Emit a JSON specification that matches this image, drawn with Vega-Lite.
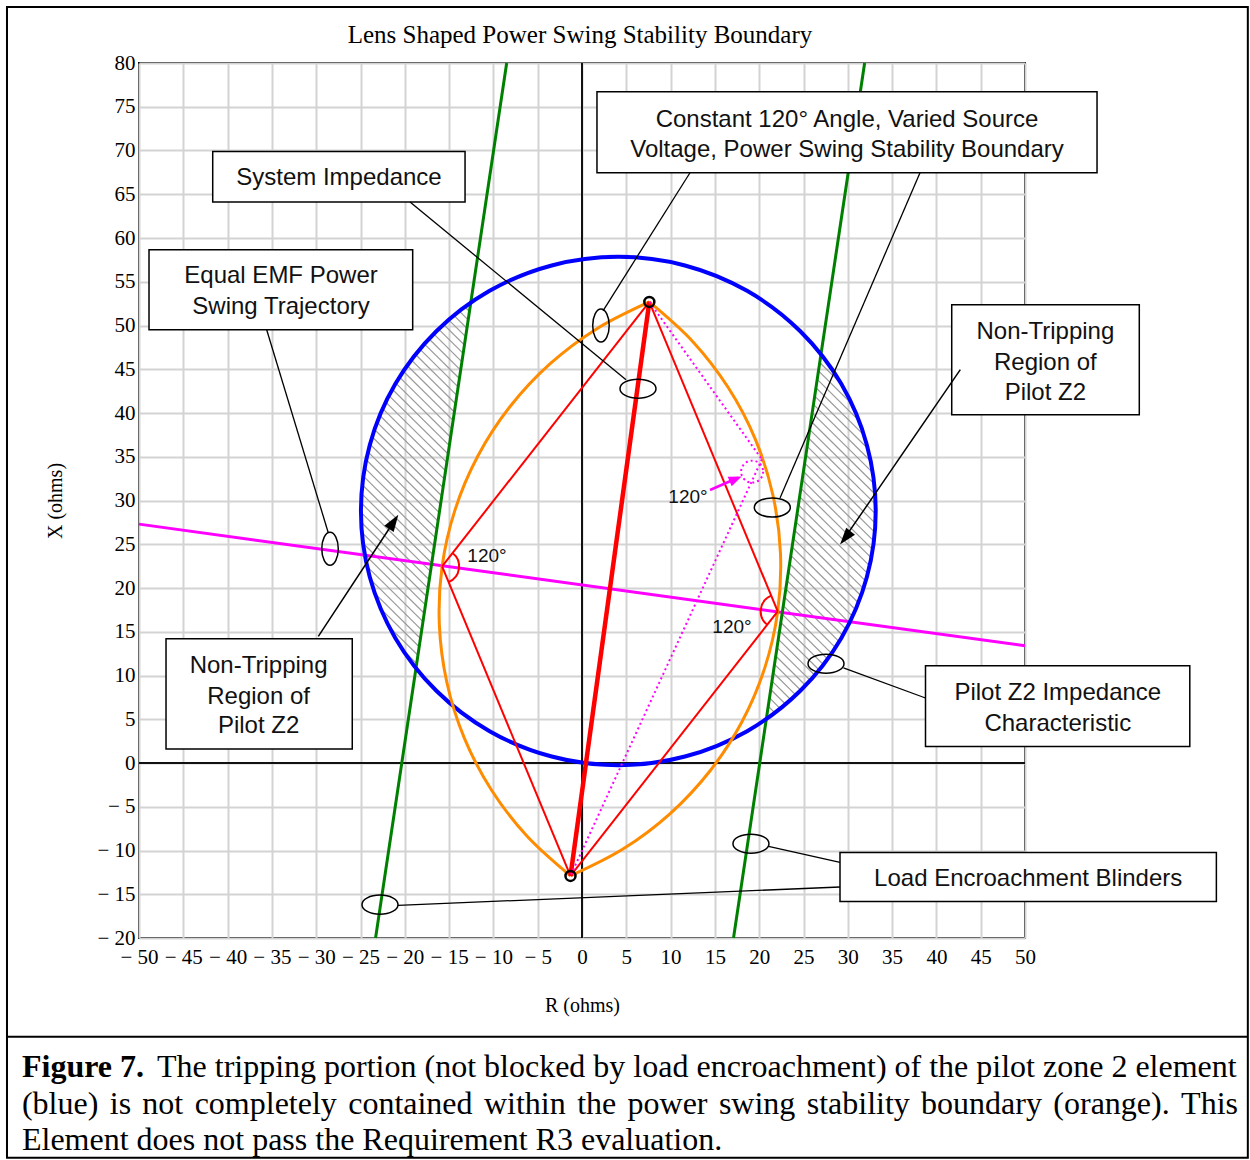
{
"$schema": "https://vega.github.io/schema/vega-lite/v6.json",
"width": 886, "height": 875,
"autosize": {"type": "none"},
"padding": {"left": 139, "top": 63, "right": 225, "bottom": 222},
"background": "#ffffff",
"config": {"view": {"stroke": "#000000", "strokeWidth": 2}},
"datasets": {
"hatch": [
{"x":-20.24,"y":12.94,"x2":-18.66,"y2":11.36},{"x":-21.76,"y":15.56,"x2":-18.52,"y2":12.32},{"x":-22.71,"y":17.61,"x2":-18.38,"y2":13.28},{"x":-23.38,"y":19.38,"x2":-18.23,"y2":14.23},{"x":-23.88,"y":20.98,"x2":-18.09,"y2":15.19},{"x":-24.25,"y":22.45,"x2":-17.95,"y2":16.15},{"x":-24.52,"y":23.82,"x2":-17.81,"y2":17.11},{"x":-24.72,"y":25.12,"x2":-17.67,"y2":18.07},{"x":-24.85,"y":26.35,"x2":-17.53,"y2":19.03},{"x":-24.92,"y":27.52,"x2":-17.38,"y2":19.98},{"x":-24.95,"y":28.65,"x2":-17.24,"y2":20.94},{"x":-24.94,"y":29.74,"x2":-17.10,"y2":21.90},{"x":-24.88,"y":30.78,"x2":-16.96,"y2":22.86},{"x":-24.80,"y":31.80,"x2":-16.82,"y2":23.82},{"x":-24.68,"y":32.78,"x2":-16.67,"y2":24.77},{"x":-24.53,"y":33.73,"x2":-16.53,"y2":25.73},{"x":-24.36,"y":34.66,"x2":-16.39,"y2":26.69},{"x":-24.16,"y":35.56,"x2":-16.25,"y2":27.65},{"x":-23.93,"y":36.43,"x2":-16.11,"y2":28.61},{"x":-23.69,"y":37.29,"x2":-15.97,"y2":29.57},{"x":-23.42,"y":38.12,"x2":-15.82,"y2":30.52},{"x":-23.13,"y":38.93,"x2":-15.68,"y2":31.48},{"x":-22.82,"y":39.72,"x2":-15.54,"y2":32.44},{"x":-22.50,"y":40.50,"x2":-15.40,"y2":33.40},{"x":-22.15,"y":41.25,"x2":-15.26,"y2":34.36},{"x":-21.79,"y":41.99,"x2":-15.11,"y2":35.31},{"x":-21.41,"y":42.71,"x2":-14.97,"y2":36.27},{"x":-21.01,"y":43.41,"x2":-14.83,"y2":37.23},{"x":-20.60,"y":44.10,"x2":-14.69,"y2":38.19},{"x":-20.17,"y":44.77,"x2":-14.55,"y2":39.15},{"x":-19.73,"y":45.43,"x2":-14.41,"y2":40.11},{"x":-19.27,"y":46.07,"x2":-14.26,"y2":41.06},{"x":-18.79,"y":46.69,"x2":-14.12,"y2":42.02},{"x":-18.30,"y":47.30,"x2":-13.98,"y2":42.98},{"x":-17.80,"y":47.90,"x2":-13.84,"y2":43.94},{"x":-17.28,"y":48.48,"x2":-13.70,"y2":44.90},{"x":-16.74,"y":49.04,"x2":-13.55,"y2":45.85},{"x":-16.19,"y":49.59,"x2":-13.41,"y2":46.81},{"x":-15.63,"y":50.13,"x2":-13.27,"y2":47.77},{"x":-15.05,"y":50.65,"x2":-13.13,"y2":48.73},{"x":-14.46,"y":51.16,"x2":-12.99,"y2":49.69},{"x":-13.85,"y":51.65,"x2":-12.85,"y2":50.65},{"x":-13.22,"y":52.12,"x2":-12.70,"y2":51.60},
{"x":20.88,"y":5.52,"x2":21.14,"y2":5.26},{"x":21.02,"y":6.48,"x2":21.77,"y2":5.73},{"x":21.16,"y":7.44,"x2":22.38,"y2":6.22},{"x":21.30,"y":8.40,"x2":22.98,"y2":6.72},{"x":21.45,"y":9.35,"x2":23.57,"y2":7.23},{"x":21.59,"y":10.31,"x2":24.14,"y2":7.76},{"x":21.73,"y":11.27,"x2":24.69,"y2":8.31},{"x":21.87,"y":12.23,"x2":25.24,"y2":8.86},{"x":22.01,"y":13.19,"x2":25.76,"y2":9.44},{"x":22.15,"y":14.15,"x2":26.27,"y2":10.03},{"x":22.30,"y":15.10,"x2":26.77,"y2":10.63},{"x":22.44,"y":16.06,"x2":27.25,"y2":11.25},{"x":22.58,"y":17.02,"x2":27.72,"y2":11.88},{"x":22.72,"y":17.98,"x2":28.17,"y2":12.53},{"x":22.86,"y":18.94,"x2":28.61,"y2":13.19},{"x":23.01,"y":19.89,"x2":29.03,"y2":13.87},{"x":23.15,"y":20.85,"x2":29.43,"y2":14.57},{"x":23.29,"y":21.81,"x2":29.82,"y2":15.28},{"x":23.43,"y":22.77,"x2":30.19,"y2":16.01},{"x":23.57,"y":23.73,"x2":30.54,"y2":16.76},{"x":23.71,"y":24.69,"x2":30.88,"y2":17.52},{"x":23.86,"y":25.64,"x2":31.19,"y2":18.31},{"x":24.00,"y":26.60,"x2":31.49,"y2":19.11},{"x":24.14,"y":27.56,"x2":31.77,"y2":19.93},{"x":24.28,"y":28.52,"x2":32.02,"y2":20.78},{"x":24.42,"y":29.48,"x2":32.26,"y2":21.64},{"x":24.57,"y":30.43,"x2":32.47,"y2":22.53},{"x":24.71,"y":31.39,"x2":32.66,"y2":23.44},{"x":24.85,"y":32.35,"x2":32.82,"y2":24.38},{"x":24.99,"y":33.31,"x2":32.95,"y2":25.35},{"x":25.13,"y":34.27,"x2":33.05,"y2":26.35},{"x":25.27,"y":35.23,"x2":33.12,"y2":27.38},{"x":25.42,"y":36.18,"x2":33.15,"y2":28.45},{"x":25.56,"y":37.14,"x2":33.14,"y2":29.56},{"x":25.70,"y":38.10,"x2":33.09,"y2":30.71},{"x":25.84,"y":39.06,"x2":32.98,"y2":31.92},{"x":25.98,"y":40.02,"x2":32.82,"y2":33.18},{"x":26.12,"y":40.98,"x2":32.58,"y2":34.52},{"x":26.27,"y":41.93,"x2":32.26,"y2":35.94},{"x":26.41,"y":42.89,"x2":31.83,"y2":37.47},{"x":26.55,"y":43.85,"x2":31.24,"y2":39.16},{"x":26.69,"y":44.81,"x2":30.44,"y2":41.06},{"x":26.83,"y":45.77,"x2":29.24,"y2":43.36}
],
"zero": [{"x":0,"y":-20,"x2":0,"y2":80},{"x":-50,"y":0,"x2":50,"y2":0}],
"magenta": [{"x":-50,"y":27.3,"x2":50,"y2":13.4}],
"green": [{"x":-23.3,"y":-20,"x2":-8.5,"y2":80},{"x":17.1,"y":-20,"x2":31.9,"y2":80}],
"blue": [
{"o":0,"x":33.15,"y":28.8},{"o":1,"x":32.16,"y":36.32},{"o":2,"x":29.26,"y":43.33},{"o":3,"x":24.64,"y":49.34},{"o":4,"x":18.63,"y":53.96},{"o":5,"x":11.62,"y":56.86},{"o":6,"x":4.1,"y":57.85},{"o":7,"x":-3.42,"y":56.86},{"o":8,"x":-10.43,"y":53.96},{"o":9,"x":-16.44,"y":49.34},{"o":10,"x":-21.06,"y":43.33},{"o":11,"x":-23.96,"y":36.32},{"o":12,"x":-24.95,"y":28.8},{"o":13,"x":-23.96,"y":21.28},{"o":14,"x":-21.06,"y":14.27},{"o":15,"x":-16.44,"y":8.26},{"o":16,"x":-10.43,"y":3.64},{"o":17,"x":-3.42,"y":0.74},{"o":18,"x":4.1,"y":-0.25},{"o":19,"x":11.62,"y":0.74},{"o":20,"x":18.63,"y":3.64},{"o":21,"x":24.64,"y":8.26},{"o":22,"x":29.26,"y":14.27},{"o":23,"x":32.16,"y":21.28}
],
"lens": [
{"g":"L","o":0,"x":7.6,"y":52.7},{"g":"L","o":1,"x":1.68,"y":49.64},{"g":"L","o":2,"x":-3.62,"y":45.61},{"g":"L","o":3,"x":-8.14,"y":40.71},{"g":"L","o":4,"x":-11.74,"y":35.11},{"g":"L","o":5,"x":-14.32,"y":28.96},{"g":"L","o":6,"x":-15.79,"y":22.47},{"g":"L","o":7,"x":-16.10,"y":15.81},{"g":"L","o":8,"x":-15.25,"y":9.20},{"g":"L","o":9,"x":-13.28,"y":2.84},{"g":"L","o":10,"x":-10.22,"y":-3.08},{"g":"L","o":11,"x":-6.19,"y":-8.38},{"g":"L","o":12,"x":-1.3,"y":-12.9},
{"g":"R","o":0,"x":-1.3,"y":-12.9},{"g":"R","o":1,"x":4.62,"y":-9.84},{"g":"R","o":2,"x":9.92,"y":-5.81},{"g":"R","o":3,"x":14.44,"y":-0.91},{"g":"R","o":4,"x":18.04,"y":4.69},{"g":"R","o":5,"x":20.62,"y":10.84},{"g":"R","o":6,"x":22.09,"y":17.33},{"g":"R","o":7,"x":22.40,"y":23.99},{"g":"R","o":8,"x":21.55,"y":30.60},{"g":"R","o":9,"x":19.58,"y":36.96},{"g":"R","o":10,"x":16.52,"y":42.88},{"g":"R","o":11,"x":12.49,"y":48.18},{"g":"R","o":12,"x":7.6,"y":52.7}
],
"redThin": [{"x":7.6,"y":52.7,"x2":-15.79,"y2":22.47},{"x":-15.79,"y":22.47,"x2":-1.3,"y2":-12.9},{"x":7.6,"y":52.7,"x2":22.09,"y2":17.33},{"x":22.09,"y":17.33,"x2":-1.3,"y2":-12.9}],
"redThick": [{"x":-1.3,"y":-12.9,"x2":7.6,"y2":52.7}],
"magDot": [{"x":7.6,"y":52.7,"x2":20.3,"y2":34.7},{"x":20.3,"y":34.7,"x2":-1.3,"y2":-12.9}],
"magCircle": [{"x":19.2,"y":33.3}],
"magArrow": [{"x":14.45,"y":31.2,"x2":17.6,"y2":32.6}],
"magHead": [{"x":18.02,"y":32.75}],
"arcL": [{"x":-15.79,"y":22.47}],
"arcR": [{"x":22.09,"y":17.33}],
"ends": [{"x":7.6,"y":52.7},{"x":-1.3,"y":-12.9}],
"boxes": [
{"x":-41.68,"y":69.9,"x2":-13.2,"y2":64.11},
{"x":-48.87,"y":58.66,"x2":-19.11,"y2":49.52},
{"x":1.69,"y":76.71,"x2":58.13,"y2":67.46},
{"x":41.73,"y":52.38,"x2":62.9,"y2":39.81},
{"x":-46.95,"y":14.21,"x2":-25.93,"y2":1.6},
{"x":38.77,"y":11.12,"x2":68.6,"y2":1.9},
{"x":29.12,"y":-10.23,"x2":71.6,"y2":-15.82}
],
"callouts": [
{"x":-19.41,"y":64.11,"x2":4.97,"y2":43.81},
{"x":-35.59,"y":49.52,"x2":-28.63,"y2":26.29},
{"x":12.19,"y":67.46,"x2":2.37,"y2":51.68},
{"x":38.15,"y":67.46,"x2":22.35,"y2":30.29},
{"x":38.77,"y":7.43,"x2":29.51,"y2":10.86},
{"x":29.12,"y":-11.36,"x2":21.05,"y2":-9.53},
{"x":29.12,"y":-14.17,"x2":-20.77,"y2":-16.27}
],
"arrowLines": [{"x":42.7,"y":44.95,"x2":29.5,"y2":25.5},{"x":-29.76,"y":14.47,"x2":-21.1,"y2":27.8}],
"headR": [{"x":29.12,"y":24.97}],
"headL": [{"x":-20.73,"y":28.38}],
"hOval": [{"x":6.32,"y":42.78},{"x":21.48,"y":29.2},{"x":27.54,"y":11.35},{"x":19.07,"y":-9.22},{"x":-22.8,"y":-16.19}],
"vOval": [{"x":2.14,"y":50.0},{"x":-28.44,"y":24.49}],
"boxText": [
{"x":-27.43,"y":66.89,"t":"System Impedance"},
{"x":-33.97,"y":55.61,"t":"Equal EMF Power"},
{"x":-33.97,"y":52.06,"t":"Swing Trajectory"},
{"x":29.91,"y":73.52,"t":"Constant 120° Angle, Varied Source"},
{"x":29.91,"y":70.09,"t":"Voltage, Power Swing Stability Boundary"},
{"x":52.3,"y":49.26,"t":"Non-Tripping"},
{"x":52.3,"y":45.72,"t":"Region of"},
{"x":52.3,"y":42.29,"t":"Pilot Z2"},
{"x":-36.5,"y":11.12,"t":"Non-Tripping"},
{"x":-36.5,"y":7.58,"t":"Region of"},
{"x":-36.5,"y":4.26,"t":"Pilot Z2"},
{"x":53.7,"y":8.03,"t":"Pilot Z2 Impedance"},
{"x":53.7,"y":4.49,"t":"Characteristic"},
{"x":50.36,"y":-13.22,"t":"Load Encroachment Blinders"}
],
"angleText": [{"x":-10.72,"y":23.7,"t":"120°"},{"x":16.93,"y":15.6,"t":"120°"},{"x":11.96,"y":30.37,"t":"120°"}],
"titleText": [{"x":-0.23,"y":83.2,"t":"Lens Shaped Power Swing Stability Boundary"}],
"frame": [{"x":-64.9,"y":86.4,"x2":75.15,"y2":-45.1}],
"sep": [{"x":-64.9,"y":-31.28,"x2":75.15,"y2":-31.28}],
"capBold": [{"x":-63.21,"y":-34.71,"t":"Figure 7."}],
"capText": [
{"x":-47.97,"y":-34.71,"t":"The tripping portion (not blocked by load encroachment) of the pilot zone 2 element"},
{"x":-63.21,"y":-38.94,"t":"(blue)"},{"x":-53.30,"y":-38.94,"t":"is"},{"x":-49.62,"y":-38.94,"t":"not"},{"x":-43.72,"y":-38.94,"t":"completely"},{"x":-26.39,"y":-38.94,"t":"contained"},{"x":-11.07,"y":-38.94,"t":"within"},{"x":-0.55,"y":-38.94,"t":"the"},{"x":5.14,"y":-38.94,"t":"power"},{"x":15.45,"y":-38.94,"t":"swing"},{"x":25.36,"y":-38.94,"t":"stability"},{"x":38.27,"y":-38.94,"t":"boundary"},{"x":53.20,"y":-38.94,"t":"(orange)."},{"x":67.62,"y":-38.94,"t":"This"},
{"x":-63.21,"y":-43.06,"t":"Element does not pass the Requirement R3 evaluation."}
]
},
"encoding": {
"x": {"field": "x", "type": "quantitative", "scale": {"domain": [-50, 50], "nice": false, "zero": false},
 "axis": {"values": [-50,-45,-40,-35,-30,-25,-20,-15,-10,-5,0,5,10,15,20,25,30,35,40,45,50], "labelExpr": "datum.value < 0 ? '− ' + (-datum.value) : '' + datum.value", "grid": true, "gridColor": "#d3d3d3", "gridWidth": 2, "domain": false, "ticks": false, "tickSize": 0, "labelFont": "Liberation Serif", "labelFontSize": 21, "labelColor": "#000000", "labelPadding": 8, "labelFlush": false, "labelOverlap": false, "title": "R (ohms)", "titleFont": "Liberation Serif", "titleFontSize": 20, "titleFontWeight": "normal", "titleColor": "#000000", "titlePadding": 28}},
"y": {"field": "y", "type": "quantitative", "scale": {"domain": [-20, 80], "nice": false, "zero": false},
 "axis": {"values": [-20,-15,-10,-5,0,5,10,15,20,25,30,35,40,45,50,55,60,65,70,75,80], "labelExpr": "datum.value < 0 ? '− ' + (-datum.value) : '' + datum.value", "grid": true, "gridColor": "#d3d3d3", "gridWidth": 2, "domain": false, "ticks": false, "tickSize": 0, "labelFont": "Liberation Serif", "labelFontSize": 21, "labelColor": "#000000", "labelPadding": 4, "labelFlush": false, "labelOverlap": false, "title": "X (ohms)", "titleFont": "Liberation Serif", "titleFontSize": 20, "titleFontWeight": "normal", "titleColor": "#000000", "titlePadding": 31}}
},
"layer": [
{"data": {"name": "hatch"}, "mark": {"type": "rule", "color": "#9a9a9a", "strokeWidth": 1.2}, "encoding": {"x2": {"field": "x2"}, "y2": {"field": "y2"}}},
{"data": {"name": "zero"}, "mark": {"type": "rule", "color": "#111111", "strokeWidth": 2}, "encoding": {"x2": {"field": "x2"}, "y2": {"field": "y2"}}},
{"data": {"name": "magenta"}, "mark": {"type": "rule", "color": "#ff00ff", "strokeWidth": 3}, "encoding": {"x2": {"field": "x2"}, "y2": {"field": "y2"}}},
{"data": {"name": "green"}, "mark": {"type": "rule", "color": "#008000", "strokeWidth": 3}, "encoding": {"x2": {"field": "x2"}, "y2": {"field": "y2"}}},
{"data": {"name": "blue"}, "mark": {"type": "line", "color": "#0000ff", "strokeWidth": 4, "interpolate": "cardinal-closed"}, "encoding": {"order": {"field": "o"}}},
{"data": {"name": "lens"}, "mark": {"type": "line", "color": "#ff8c00", "strokeWidth": 3, "interpolate": "cardinal"}, "encoding": {"order": {"field": "o"}, "detail": {"field": "g"}}},
{"data": {"name": "redThin"}, "mark": {"type": "rule", "color": "#ff0000", "strokeWidth": 2}, "encoding": {"x2": {"field": "x2"}, "y2": {"field": "y2"}}},
{"data": {"name": "redThick"}, "mark": {"type": "rule", "color": "#ff0000", "strokeWidth": 4.5}, "encoding": {"x2": {"field": "x2"}, "y2": {"field": "y2"}}},
{"data": {"name": "magDot"}, "mark": {"type": "rule", "color": "#ff00ff", "strokeWidth": 2, "strokeDash": [2, 3]}, "encoding": {"x2": {"field": "x2"}, "y2": {"field": "y2"}}},
{"data": {"name": "magCircle"}, "mark": {"type": "point", "shape": "circle", "size": 484, "filled": false, "color": "#ff00ff", "strokeWidth": 2, "strokeDash": [2, 3], "opacity": 1}},
{"data": {"name": "magArrow"}, "mark": {"type": "rule", "color": "#ff00ff", "strokeWidth": 2.5}, "encoding": {"x2": {"field": "x2"}, "y2": {"field": "y2"}}},
{"data": {"name": "magHead"}, "mark": {"type": "point", "shape": "M0,0L-0.4,1L0.4,1Z", "size": 676, "filled": true, "color": "#ff00ff", "angle": 67.2, "opacity": 1}},
{"data": {"name": "arcL"}, "mark": {"type": "point", "shape": "M0.380,0.925C0.710,0.790,0.943,0.488,0.991,0.134C1.039,-0.220,0.894,-0.573,0.612,-0.791", "size": 1156, "filled": false, "color": "#ff0000", "strokeWidth": 2, "opacity": 1}},
{"data": {"name": "arcR"}, "mark": {"type": "point", "shape": "M-0.380,-0.925C-0.710,-0.790,-0.943,-0.488,-0.991,-0.134C-1.039,0.220,-0.894,0.573,-0.612,0.791", "size": 1156, "filled": false, "color": "#ff0000", "strokeWidth": 2, "opacity": 1}},
{"data": {"name": "ends"}, "mark": {"type": "point", "shape": "circle", "size": 100, "filled": false, "color": "#000000", "strokeWidth": 2.5, "opacity": 1}},
{"data": {"name": "boxes"}, "mark": {"type": "rect", "fill": "#ffffff", "stroke": "#000000", "strokeWidth": 1.5}, "encoding": {"x2": {"field": "x2"}, "y2": {"field": "y2"}}},
{"data": {"name": "callouts"}, "mark": {"type": "rule", "color": "#000000", "strokeWidth": 1.3}, "encoding": {"x2": {"field": "x2"}, "y2": {"field": "y2"}}},
{"data": {"name": "arrowLines"}, "mark": {"type": "rule", "color": "#000000", "strokeWidth": 1.5}, "encoding": {"x2": {"field": "x2"}, "y2": {"field": "y2"}}},
{"data": {"name": "headR"}, "mark": {"type": "point", "shape": "M0,0L-0.33,1L0.33,1Z", "size": 1156, "filled": true, "color": "#000000", "angle": 218.6, "opacity": 1}},
{"data": {"name": "headL"}, "mark": {"type": "point", "shape": "M0,0L-0.33,1L0.33,1Z", "size": 1156, "filled": true, "color": "#000000", "angle": 33.3, "opacity": 1}},
{"data": {"name": "hOval"}, "mark": {"type": "point", "shape": "M1,0C1,0.293,0.552,0.53,0,0.53C-0.552,0.53,-1,0.293,-1,0C-1,-0.293,-0.552,-0.53,0,-0.53C0.552,-0.53,1,-0.293,1,0Z", "size": 1296, "filled": false, "color": "#000000", "strokeWidth": 1.5, "opacity": 1}},
{"data": {"name": "vOval"}, "mark": {"type": "point", "shape": "M0.5,0C0.5,0.552,0.276,1,0,1C-0.276,1,-0.5,0.552,-0.5,0C-0.5,-0.552,-0.276,-1,0,-1C0.276,-1,0.5,-0.552,0.5,0Z", "size": 1089, "filled": false, "color": "#000000", "strokeWidth": 1.5, "opacity": 1}},
{"data": {"name": "boxText"}, "mark": {"type": "text", "font": "Liberation Sans", "fontSize": 24, "color": "#111111", "align": "center", "baseline": "middle"}, "encoding": {"text": {"field": "t"}}},
{"data": {"name": "angleText"}, "mark": {"type": "text", "font": "Liberation Sans", "fontSize": 19, "color": "#111111", "align": "center", "baseline": "middle"}, "encoding": {"text": {"field": "t"}}},
{"data": {"name": "titleText"}, "mark": {"type": "text", "font": "Liberation Serif", "fontSize": 25, "color": "#000000", "align": "center", "baseline": "middle"}, "encoding": {"text": {"field": "t"}}},
{"data": {"name": "frame"}, "mark": {"type": "rect", "fill": null, "fillOpacity": 0, "stroke": "#000000", "strokeWidth": 2}, "encoding": {"x2": {"field": "x2"}, "y2": {"field": "y2"}}},
{"data": {"name": "sep"}, "mark": {"type": "rule", "color": "#000000", "strokeWidth": 2}, "encoding": {"x2": {"field": "x2"}, "y2": {"field": "y2"}}},
{"data": {"name": "capBold"}, "mark": {"type": "text", "font": "Liberation Serif", "fontSize": 32, "fontWeight": "bold", "color": "#000000", "align": "left", "baseline": "middle"}, "encoding": {"text": {"field": "t"}}},
{"data": {"name": "capText"}, "mark": {"type": "text", "font": "Liberation Serif", "fontSize": 32, "color": "#000000", "align": "left", "baseline": "middle"}, "encoding": {"text": {"field": "t"}}}
]
}
